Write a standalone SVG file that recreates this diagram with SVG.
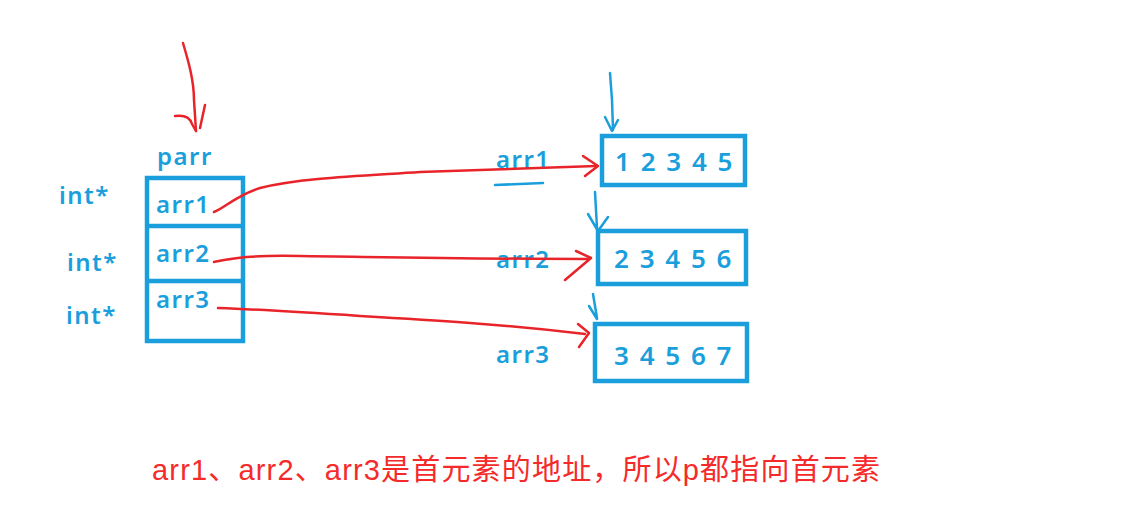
<svg xmlns="http://www.w3.org/2000/svg" width="1133" height="524" viewBox="0 0 1133 524">
<style>
.b{fill:#1a9fdc;font-family:"Noto Sans","Open Sans",sans-serif;font-weight:600;font-size:24px;letter-spacing:1.5px}
.n{font-size:26px;letter-spacing:2px}
.box{fill:none;stroke:#1a9fdc;stroke-width:4.5}
.bl{fill:none;stroke:#1a9fdc;stroke-width:2.5;stroke-linecap:round;stroke-linejoin:round}
.rl{fill:none;stroke:#e8242a;stroke-width:2.5;stroke-linecap:round;stroke-linejoin:round}
.cap{fill:#f52a2a;font-family:"Liberation Sans","Noto Sans CJK SC",sans-serif;font-size:29px}
</style>
<rect width="1133" height="524" fill="#ffffff"/>
<g id="parr">
<text class="b" x="157" y="165">parr</text>
<rect class="box" x="147" y="178" width="96" height="163"/>
<line class="box" x1="147" y1="226" x2="243" y2="226"/>
<line class="box" x1="147" y1="281" x2="243" y2="281"/>
<text class="b" x="156" y="213">arr1</text>
<text class="b" x="156" y="262">arr2</text>
<text class="b" x="156" y="308">arr3</text>
<text class="b" x="59" y="204">int*</text>
<text class="b" x="67" y="271">int*</text>
<text class="b" x="66" y="324">int*</text>
</g>
<g id="array1">
<rect class="box" x="602" y="136" width="143" height="49"/>
<text class="b n" x="615" y="171">1 2 3 4 5</text>
<text class="b" x="496" y="168">arr1</text>
<path class="bl" d="M495 185 L543 183"/>
</g>
<g id="array2">
<rect class="box" x="598" y="231" width="148" height="53"/>
<text class="b n" x="614" y="268">2 3 4 5 6</text>
<text class="b" x="496" y="268">arr2</text>
</g>
<g id="array3">
<rect class="box" x="595" y="324" width="152" height="57"/>
<text class="b n" x="614" y="365">3 4 5 6 7</text>
<text class="b" x="496" y="363">arr3</text>
</g>
<g id="connectors">
<path class="rl" d="M183 43 C188 60 194 80 194 100 L196 131"/>
<path class="rl" d="M175 116 C183 115 190 117 192 124 L196 131 M205 105 L200 128"/>
<path class="rl" d="M214 212 C225 208 235 196 260 188 C300 178 360 176 420 172 C480 170 540 168 596 166"/>
<path class="rl" d="M583 156 L598 166 L585 176"/>
<path class="rl" d="M214 262 C235 258 250 255 300 256 C380 257 480 259 588 259"/>
<path class="rl" d="M576 251 L591 258 L565 280"/>
<path class="rl" d="M218 308 C245 309 300 312 360 316 C430 320 500 324 585 334"/>
<path class="rl" d="M578 324 L589 333 L579 347"/>
<path class="bl" d="M610 73 L612 100 L613 130 M605 117 L612 131 L618 120"/>
<path class="bl" d="M595 192 L597 228 M588 214 L598 231 L608 217"/>
<path class="bl" d="M593 294 L597 318 M589 306 L597 319"/>
</g>
<text class="cap" x="152" y="480" textLength="728" lengthAdjust="spacing">arr1、arr2、arr3是首元素的地址，所以p都指向首元素</text>
</svg>
